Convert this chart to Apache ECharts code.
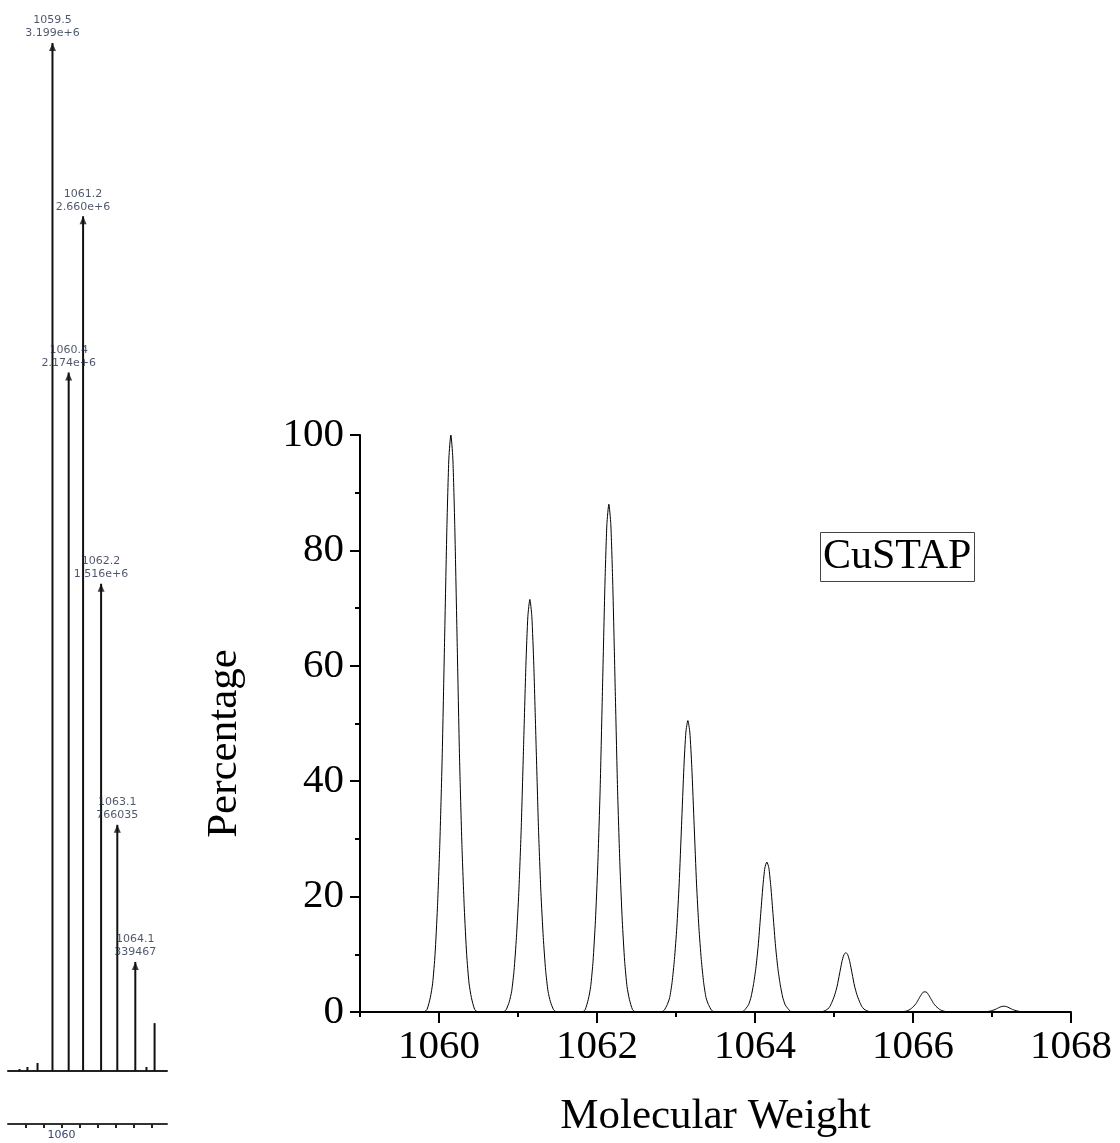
<!DOCTYPE html>
<html>
<head>
<meta charset="utf-8">
<script src="https://cdn.jsdelivr.net/npm/echarts@6/dist/echarts.min.js"></script>
<style>
  html, body { margin: 0; padding: 0; background: #fff; }
  #main { width: 1120px; height: 1143px; }
</style>
</head>
<body>
<div id="main"></div>
<script>
	'use strict'

	/*-----left panel: measured stick spectrum-----*/
	var stickMass = [1057.67, 1058.11, 1058.67, 1059.5, 1060.4, 1061.2, 1062.2, 1063.1, 1064.1, 1064.72, 1065.17];
	var stickIntensity = [6200, 12400, 25000, 3199000, 2174000, 2660000, 1516000, 766035, 339467, 12400, 149000];
	var peakMass = [1059.5, 1060.4, 1061.2, 1062.2, 1063.1, 1064.1];
	var peakIntensity = [3199000, 2174000, 2660000, 1516000, 766035, 339467];
	var peakMassText = ['1059.5', '1060.4', '1061.2', '1062.2', '1063.1', '1064.1'];
	var peakIntensityText = ['3.199e+6', '2.174e+6', '2.660e+6', '1.516e+6', '766035', '339467'];
	var leftTicks = [1058, 1059, 1060, 1061, 1062, 1063, 1064, 1065];
	var leftTickLabels = [1060];

	/*-----right panel: simulated isotope pattern-----*/
	var profile1060 = [[1059.81, 0], [1059.85, 0.5], [1059.89, 2.5], [1059.92, 5], [1059.95, 10], [1059.98, 18], [1060.01, 29], [1060.04, 44], [1060.07, 64], [1060.10, 84], [1060.125, 96], [1060.15, 100],
		[1060.175, 96], [1060.20, 84], [1060.23, 64], [1060.26, 44], [1060.29, 29], [1060.32, 18], [1060.35, 10], [1060.38, 5], [1060.41, 2.5], [1060.45, 0.5], [1060.49, 0]];
	var profile1061 = [[1060.81, 0], [1060.85, 0.4], [1060.89, 1.8], [1060.92, 3.6], [1060.95, 7.2], [1060.98, 12.9], [1061.01, 20.7], [1061.04, 31.5], [1061.07, 45.8], [1061.10, 60.1], [1061.125, 68.6], [1061.15, 71.5],
		[1061.175, 68.6], [1061.20, 60.1], [1061.23, 45.8], [1061.26, 31.5], [1061.29, 20.7], [1061.32, 12.9], [1061.35, 7.2], [1061.38, 3.6], [1061.41, 1.8], [1061.45, 0.4], [1061.49, 0]];
	var profile1062 = [[1061.81, 0], [1061.85, 0.4], [1061.89, 2.2], [1061.92, 4.4], [1061.95, 8.8], [1061.98, 15.8], [1062.01, 25.5], [1062.04, 38.7], [1062.07, 56.3], [1062.10, 73.9], [1062.125, 84.5], [1062.15, 88],
		[1062.175, 84.5], [1062.20, 73.9], [1062.23, 56.3], [1062.26, 38.7], [1062.29, 25.5], [1062.32, 15.8], [1062.35, 8.8], [1062.38, 4.4], [1062.41, 2.2], [1062.45, 0.4], [1062.49, 0]];
	var profile1063 = [[1062.81, 0], [1062.85, 0.3], [1062.89, 1.3], [1062.92, 2.5], [1062.95, 5.1], [1062.98, 9.1], [1063.01, 14.6], [1063.04, 22.2], [1063.07, 32.3], [1063.10, 42.4], [1063.125, 48.5], [1063.15, 50.5],
		[1063.175, 48.5], [1063.20, 42.4], [1063.23, 32.3], [1063.26, 22.2], [1063.29, 14.6], [1063.32, 9.1], [1063.35, 5.1], [1063.38, 2.5], [1063.41, 1.3], [1063.45, 0.3], [1063.49, 0]];
	var profile1064 = [[1063.81, 0], [1063.85, 0.1], [1063.89, 0.7], [1063.92, 1.3], [1063.95, 2.6], [1063.98, 4.7], [1064.01, 7.5], [1064.04, 11.4], [1064.07, 16.6], [1064.10, 21.8], [1064.125, 25], [1064.15, 26],
		[1064.175, 25], [1064.20, 21.8], [1064.23, 16.6], [1064.26, 11.4], [1064.29, 7.5], [1064.32, 4.7], [1064.35, 2.6], [1064.38, 1.3], [1064.41, 0.7], [1064.45, 0.1], [1064.49, 0]];
	var profile1065 = [[1064.81, 0], [1064.85, 0.05], [1064.89, 0.26], [1064.92, 0.5], [1064.95, 1.0], [1064.98, 1.9], [1065.01, 3.0], [1065.04, 4.5], [1065.07, 6.6], [1065.10, 8.7], [1065.125, 9.9], [1065.15, 10.3],
		[1065.175, 9.9], [1065.20, 8.7], [1065.23, 6.6], [1065.26, 4.5], [1065.29, 3.0], [1065.32, 1.9], [1065.35, 1.0], [1065.38, 0.5], [1065.41, 0.26], [1065.45, 0.05], [1065.49, 0]];
	var profile1066 = [[1065.81, 0], [1065.85, 0.02], [1065.89, 0.09], [1065.92, 0.18], [1065.95, 0.35], [1065.98, 0.63], [1066.01, 1.0], [1066.04, 1.5], [1066.07, 2.2], [1066.10, 2.9], [1066.125, 3.4], [1066.15, 3.5],
		[1066.175, 3.4], [1066.20, 2.9], [1066.23, 2.2], [1066.26, 1.5], [1066.29, 1.0], [1066.32, 0.63], [1066.35, 0.35], [1066.38, 0.18], [1066.41, 0.09], [1066.45, 0.02], [1066.49, 0]];
	var profile1067 = [[1066.81, 0], [1066.85, 0.01], [1066.89, 0.03], [1066.92, 0.05], [1066.95, 0.1], [1066.98, 0.18], [1067.01, 0.29], [1067.04, 0.44], [1067.07, 0.64], [1067.10, 0.84], [1067.125, 0.96], [1067.15, 1.0],
		[1067.175, 0.96], [1067.20, 0.84], [1067.23, 0.64], [1067.26, 0.44], [1067.29, 0.29], [1067.32, 0.18], [1067.35, 0.1], [1067.38, 0.05], [1067.41, 0.03], [1067.45, 0.01], [1067.49, 0]];
	var xTicksMajor = [1060, 1062, 1064, 1066, 1068];
	var xTicksMinor = [1059, 1061, 1063, 1065, 1067];

	var stickData = stickMass.map(function (m, i) { return [m, stickIntensity[i]]; });
	var arrowData = peakMass.map(function (m, i) { return [m, peakIntensity[i]]; });
	var profileData = [[1059, 0]].concat(profile1060, profile1061, profile1062, profile1063,
		profile1064, profile1065, profile1066, profile1067, [[1068, 0]]);

	var serif = 'Liberation Serif';
	var plain = function (v) { return String(v); };
	var chart = echarts.init(document.getElementById('main'));
	var option = {
		animation: false,
		title: {
			text: 'CuSTAP',
			left: 820,
			top: 532,
			padding: [2, 3],
			borderWidth: 1,
			borderColor: '#444',
			textStyle: { fontFamily: serif, fontSize: 42, fontWeight: 'normal', color: '#000', lineHeight: 46 }
		},
		grid: [
			{ left: 8, width: 159, top: 43, height: 1028 },
			{ left: 360, width: 711, top: 435, height: 577 }
		],
		xAxis: [{
			gridIndex: 0, type: 'value', min: 1057.03, max: 1065.86,
			axisLine: { lineStyle: { color: '#222', width: 2 } },
			axisTick: { show: false }, axisLabel: { show: false }, splitLine: { show: false }
		}, {
			gridIndex: 0, type: 'value', min: 1057.03, max: 1065.86, position: 'bottom', offset: 53,
			axisLine: { lineStyle: { color: '#333', width: 2 } },
			axisTick: { customValues: leftTicks, length: 4, lineStyle: { color: '#222', width: 2 } },
			axisLabel: { customValues: leftTickLabels, formatter: plain, fontSize: 11, margin: 6, color: '#34476e', fontFamily: 'DejaVu Sans' },
			splitLine: { show: false }
		}, {
			gridIndex: 1, type: 'value', min: 1059, max: 1068,
			name: 'Molecular Weight', nameLocation: 'middle', nameGap: 83,
			nameTextStyle: { fontFamily: serif, fontSize: 43, color: '#000' },
			axisLine: { lineStyle: { color: '#000', width: 2 } },
			axisTick: { customValues: xTicksMajor, length: 11, lineStyle: { color: '#000', width: 2 } },
			axisLabel: { customValues: xTicksMajor, formatter: plain, fontFamily: serif, fontSize: 41, color: '#000', margin: 15 },
			splitLine: { show: false }
		}, {
			gridIndex: 1, type: 'value', min: 1059, max: 1068, position: 'bottom',
			axisLine: { show: false },
			axisTick: { customValues: xTicksMinor, length: 5, lineStyle: { color: '#000', width: 2 } },
			axisLabel: { show: false },
			splitLine: { show: false }
		}],
		yAxis: [{
			gridIndex: 0, type: 'value', min: 0, max: 3199000, show: false
		}, {
			gridIndex: 1, type: 'value', min: 0, max: 100, interval: 20,
			name: 'Percentage', nameLocation: 'middle', nameGap: 114,
			nameTextStyle: { fontFamily: serif, fontSize: 43, color: '#000', padding: [0, 40, 0, 0] },
			axisLine: { show: true, lineStyle: { color: '#000', width: 2 } },
			axisTick: { show: true, length: 10, lineStyle: { color: '#000', width: 2 } },
			minorTick: { show: true, splitNumber: 2, length: 5, lineStyle: { color: '#000', width: 2 } },
			axisLabel: { fontFamily: serif, fontSize: 41, color: '#000', margin: 16 },
			splitLine: { show: false }
		}],
		series: [{
			type: 'custom',
			xAxisIndex: 0, yAxisIndex: 0,
			data: stickData,
			renderItem: function (params, api) {
				var base = api.coord([api.value(0), 0]);
				var top = api.coord([api.value(0), api.value(1)]);
				return {
					type: 'line',
					shape: { x1: base[0], y1: base[1], x2: top[0], y2: top[1] },
					style: { stroke: '#111', lineWidth: 2 }
				};
			}
		}, {
			type: 'scatter',
			xAxisIndex: 0, yAxisIndex: 0,
			data: arrowData,
			symbol: 'triangle',
			symbolSize: [7, 8],
			symbolOffset: [0, 4],
			itemStyle: { color: '#111' },
			label: {
				show: true,
				position: 'top',
				distance: 3,
				fontFamily: 'DejaVu Sans',
				fontSize: 11,
				lineHeight: 13,
				color: '#1f2a44',
				formatter: function (p) {
					return peakMassText[p.dataIndex] + '\n' + peakIntensityText[p.dataIndex];
				}
			}
		}, {
			type: 'line',
			xAxisIndex: 2, yAxisIndex: 1,
			data: profileData,
			showSymbol: false,
			smooth: 0.2,
			lineStyle: { color: '#000', width: 1 }
		}]
	};
	chart.setOption(option);
</script>
</body>
</html>
